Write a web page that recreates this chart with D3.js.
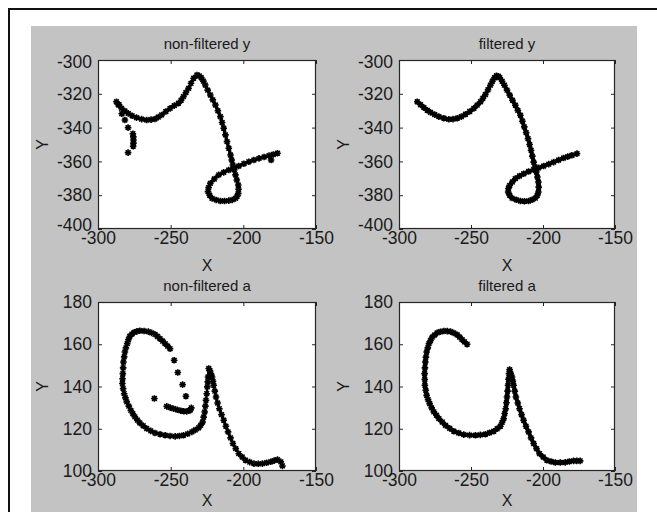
<!DOCTYPE html>
<html><head><meta charset="utf-8">
<script src="https://cdn.jsdelivr.net/npm/d3@7"></script>
<style>
body{margin:0;background:#fff}
svg{display:block;font-family:"Liberation Sans",Arial,Helvetica,sans-serif}
</style>
</head><body>
<svg id="chart" width="657" height="512"></svg>
<script>
// ---------- DATA ----------
const titles = ["non-filtered y", "filtered y", "non-filtered a", "filtered a"];
const xLabel = "X";
const yLabel = "Y";
const xTicks = [-300, -250, -200, -150];
const yTicksTop = [-400, -380, -360, -340, -320, -300];
const yTicksBottom = [100, 120, 140, 160, 180];

// non-filtered y : main trace
const nonFilteredY = [
 [-287.3,-324.7],[-285.5,-326.5],[-283.8,-328.6],[-281.5,-330.2],[-279.2,-331.6],[-276.5,-333],
 [-273.5,-334.1],[-270,-335],[-266.5,-335.5],[-263.5,-335.3],[-260.8,-334.9],[-258.5,-333.8],
 [-256.2,-332.5],[-253.3,-330.5],[-250.4,-328.6],[-247.5,-327],[-244.6,-325.6],[-242.8,-323.8],
 [-241.2,-321.7],[-239.5,-319.2],[-237.7,-316.8],[-236,-313.8],[-234.2,-310.8],[-231.9,-308.9],
 [-230.3,-309.4],[-228.9,-310.5],[-227.5,-312.5],[-226.2,-314.8],[-224.5,-317.8],[-222.7,-320.7],
 [-221,-323.6],[-219.2,-326.6],[-217.5,-330],[-215.8,-333.5],[-214.6,-337],[-213.5,-340.4],
 [-212.3,-344.3],[-211.2,-348.3],[-210,-352.2],[-208.8,-356.2],[-208,-359.2],[-207.2,-362.1],
 [-206.3,-365],[-205.4,-368],[-204.5,-371],[-203.5,-374],[-203.3,-376.5],[-203.5,-378.9],
 [-204.3,-380.6],[-205.4,-381.9],[-207.7,-382.8],[-210,-383.2],[-213,-383.4],[-215.8,-383.4],
 [-218.7,-382.8],[-221.5,-381.9],[-223.2,-380],[-224.3,-377.9],[-223.9,-375.5],[-222.7,-373],
 [-220,-370.4],[-216.9,-368],[-213.5,-366.5],[-210,-365.1],[-206.5,-363.9],[-203.1,-362.7],
 [-199.6,-361.4],[-196.2,-360.2],[-192.7,-359.2],[-189.2,-358.2],[-185.7,-357.4],[-182.3,-356.6],
 [-179.4,-355.9],[-176.5,-355.2]
];
// non-filtered y : stray samples
const nonFilteredYStray = [
 [-286,-326.5],[-283.6,-331.8],[-281.5,-335.5],[-279.3,-340],[-276,-343.6],[-275.7,-345.5],
 [-275.6,-347.3],[-275.6,-349.2],[-275.8,-351],[-279.3,-354.8],[-180.9,-359.2]
];

// filtered y
const filteredY = [
 [-287.3,-324.7],[-285,-326.5],[-282.7,-328.2],[-280.4,-329.7],[-278.1,-331],[-275.2,-332.3],
 [-272.3,-333.5],[-268.8,-334.5],[-265.4,-335.1],[-262.5,-335],[-259.6,-334.5],[-256.7,-333.5],
 [-253.8,-332.1],[-250.9,-330.5],[-248,-328.6],[-245.7,-326.7],[-243.4,-324.7],[-241.7,-322.6],
 [-240,-320.4],[-238.2,-317.6],[-236.5,-314.9],[-235.1,-312.6],[-233.7,-310.5],[-232.3,-309.3],
 [-231,-309.6],[-230,-310.5],[-228.4,-312.6],[-226.8,-314.9],[-225,-317.8],[-223.1,-320.8],
 [-221.2,-323.8],[-219.2,-326.8],[-217.5,-329.8],[-215.7,-332.7],[-214.3,-336.2],[-213,-339.6],
 [-211.7,-343],[-210.4,-346.5],[-209.3,-350],[-208.3,-353.4],[-207.4,-356.9],[-206.5,-360.4],
 [-205.5,-363.3],[-204.6,-366.3],[-203.9,-369.2],[-203.2,-372.2],[-203,-375.2],[-203.2,-378.1],
 [-204,-380.2],[-205.3,-381.7],[-207.6,-382.7],[-210,-383.4],[-212.9,-383.6],[-215.7,-383.4],
 [-218.6,-382.7],[-221.5,-381.7],[-223.2,-380],[-224.2,-378.1],[-224,-376],[-223.1,-374.2],
 [-221.3,-372.2],[-219.2,-370.2],[-216.3,-368.6],[-213.4,-367.3],[-210,-366],[-206.5,-364.9],
 [-203,-363.8],[-199.5,-362.7],[-196,-361.6],[-192.6,-360.4],[-189.1,-359.2],[-185.7,-358],
 [-182.8,-357.2],[-179.9,-356.4],[-176.4,-355.4]
];

// non-filtered a : main trace
const nonFilteredA = [
 [-250.4,157.9],[-252.1,159.1],[-253.8,160.3],[-255.5,161.5],[-257.3,162.6],[-259,163.7],
 [-260.8,164.7],[-263.1,165.4],[-265.4,166],[-268.3,166.3],[-271.2,166.4],[-273.2,166.1],
 [-275.1,165.6],[-276.7,164.8],[-278.1,163.8],[-279.1,162.1],[-279.9,160.3],[-280.8,158.3],
 [-281.5,156.3],[-282,154],[-282.5,151.6],[-282.7,148.8],[-282.9,146.1],[-283.1,143.7],
 [-283.2,141.4],[-282.7,139],[-282,136.6],[-281.1,134.6],[-280.2,132.7],[-278.8,130.7],
 [-277.4,128.7],[-276,127.1],[-274.6,125.6],[-272.9,124.1],[-271.2,122.7],[-268.9,121.4],
 [-266.5,120.1],[-263.7,119],[-260.8,118],[-257.3,117.4],[-253.8,116.9],[-250.4,116.6],
 [-246.9,116.4],[-244,116.6],[-241.2,116.9],[-238.3,117.6],[-235.4,118.5],[-233.1,119.4],
 [-230.8,120.4],[-229.3,121.7],[-228,123.2],[-227.3,125.5],[-226.6,127.9],[-226.1,130.7],
 [-225.7,133.5],[-225.2,136.6],[-224.8,139.8],[-224.5,142.2],[-224.3,144.5],[-223.8,148.5],
 [-223,147.5],[-222.3,146],[-221.5,144.5],[-220.9,142.5],[-220.4,140.6],[-219.6,137.8],
 [-218.8,135],[-217.7,132.2],[-216.5,129.5],[-215,126.7],[-213.5,124],[-212,121.2],
 [-210.5,118.5],[-208.8,115.7],[-207.2,113],[-205.2,110.6],[-203.1,108.2],[-200.8,106.6],
 [-198.5,105.1],[-195.6,104.2],[-192.7,103.5],[-189.8,103.4],[-186.9,103.5],[-184,103.9],
 [-181.1,104.4],[-178.8,104.9],[-176.5,105.4],[-174.2,104.3],[-173.1,102.4]
];
// non-filtered a : stray samples
const nonFilteredAStray = [
 [-247.6,152.4],[-245.1,146.6],[-241.8,140.9],[-239.5,135.4],[-261.2,134.3],
 [-252.7,130.6],[-250.3,130],[-248,129.5],[-245.5,129],[-243,128.5],[-241,128.3],
 [-239,128.2],[-237.4,128.5],[-236.5,128.9],[-235.8,129.9]
];

// filtered a
const filteredA = [
 [-252.7,160],[-254.5,161.1],[-256.2,162.2],[-257.9,163.4],[-259.6,164.5],[-261.9,165.3],
 [-264.2,166],[-266.5,166.2],[-268.8,166.3],[-271.2,165.9],[-273.5,165.4],[-275.2,164.4],
 [-276.9,163.4],[-278.1,161.8],[-279.2,160.3],[-280,158.3],[-280.8,156.3],[-281.3,153.9],
 [-281.7,151.6],[-282,148.8],[-282.2,146.1],[-282.1,143.3],[-282,140.6],[-281.4,138.2],
 [-280.8,135.8],[-279.8,133.8],[-278.7,131.9],[-277.3,129.9],[-275.8,128],[-274,126.4],
 [-272.3,124.8],[-270,123.2],[-267.7,121.6],[-264.8,120.2],[-261.9,118.8],[-258.5,118],
 [-255,117.2],[-251,117],[-246.9,116.9],[-243.5,117.1],[-240,117.4],[-237.1,118.1],
 [-234.2,118.8],[-231.9,120],[-229.6,121.2],[-228.4,123],[-227.3,124.8],[-226.6,127.2],
 [-225.9,129.5],[-225.4,132.3],[-225,135],[-224.6,137.8],[-224.3,140.6],[-224,143.4],
 [-223.6,146.1],[-223.2,148],[-222.4,146.2],[-221.5,144.5],[-220.9,142.5],[-220.4,140.6],
 [-219.6,137.8],[-218.8,135],[-217.5,132.2],[-216.3,129.5],[-214.9,126.7],[-213.5,124],
 [-211.8,121.2],[-210,118.5],[-208.3,115.7],[-206.5,113],[-204.5,110.6],[-202.4,108.2],
 [-199.9,106.6],[-197.3,105.1],[-194.4,104.5],[-191.5,104],[-188,104],[-184.6,104.1],
 [-181.7,104.5],[-178.8,104.8],[-176.5,104.8],[-174.2,104.8]
];

// ---------- LAYOUT ----------
const svg = d3.select("#chart");
svg.append("rect").attr("x",0).attr("y",0).attr("width",657).attr("height",512).attr("fill","#fff");
svg.append("rect").attr("x",31).attr("y",26).attr("width",606).attr("height",486).attr("fill","#c3c3c3");
svg.append("path").attr("d","M9,512V9H657").attr("fill","none").attr("stroke","#111").attr("stroke-width",2);

const panels = [
  {title:titles[0], left:98,  top:60,  w:218, h:169, yDomain:[-400,-300], yTicks:yTicksTop,    main:nonFilteredY, stray:nonFilteredYStray, xLabY:265, lw:3.2, edgeShift:true},
  {title:titles[1], left:399, top:60,  w:216, h:169, yDomain:[-400,-300], yTicks:yTicksTop,    main:filteredY,    stray:[],                xLabY:265, lw:4,   edgeShift:true},
  {title:titles[2], left:98,  top:302, w:218, h:169, yDomain:[100,180],   yTicks:yTicksBottom, main:nonFilteredA, stray:nonFilteredAStray, xLabY:500, lw:2.4, edgeShift:false},
  {title:titles[3], left:399, top:302, w:216, h:169, yDomain:[100,180],   yTicks:yTicksBottom, main:filteredA,    stray:[],                xLabY:500, lw:4,   edgeShift:false}
];

const star = (r) => {
  const d = r * 0.72;
  return `M${-r},0H${r}M0,${-r}V${r}M${-d},${-d}L${d},${d}M${-d},${d}L${d},${-d}`;
};
const tickColor = "#262626";
const fmt = d => String(d);   // plain hyphen-minus, as in the reference

panels.forEach(p => {
  const g = svg.append("g").attr("transform", `translate(${p.left},${p.top})`);
  const x = d3.scaleLinear().domain([-300,-150]).range([0,p.w]);
  const y = d3.scaleLinear().domain(p.yDomain).range([p.h,0]);

  g.append("rect").attr("width",p.w).attr("height",p.h).attr("fill","#fff");

  const styleAxis = sel => {
    sel.select(".domain").remove();
    sel.selectAll(".tick line").attr("stroke",tickColor).attr("stroke-width",1);
    sel.selectAll(".tick text").attr("fill","#1a1a1a").style("font-size","17.5px")
      .style("font-family",'"Liberation Sans",Arial,sans-serif');
  };
  g.append("g").attr("transform",`translate(0,${p.h})`)
    .call(d3.axisBottom(x).tickValues(xTicks).tickSizeInner(-4).tickSizeOuter(0).tickPadding(3).tickFormat(fmt))
    .call(styleAxis);
  g.append("g")
    .call(d3.axisTop(x).tickValues(xTicks).tickSizeInner(-4).tickSizeOuter(0).tickFormat(""))
    .call(styleAxis);
  const yAx = g.append("g")
    .call(d3.axisLeft(y).tickValues(p.yTicks).tickSizeInner(-4).tickSizeOuter(0).tickPadding(6).tickFormat(fmt))
    .call(styleAxis);
  if (p.edgeShift) {
    const dom = y.domain();
    yAx.selectAll(".tick text").attr("y", d => d === dom[0] ? -4 : (d === dom[1] ? 2 : 0));
  }
  g.append("g").attr("transform",`translate(${p.w},0)`)
    .call(d3.axisRight(y).tickValues(p.yTicks).tickSizeInner(-4).tickSizeOuter(0).tickFormat(""))
    .call(styleAxis);

  g.append("rect").attr("x",0.5).attr("y",0.5).attr("width",p.w-1).attr("height",p.h-1)
    .attr("fill","none").attr("stroke",tickColor).attr("stroke-width",1.2);

  const line = d3.line().x(d => x(d[0])).y(d => y(d[1])).curve(d3.curveCatmullRom.alpha(0.5));
  g.append("path").datum(p.main).attr("d",line).attr("fill","none")
    .attr("stroke","#000").attr("stroke-width",p.lw).attr("stroke-linejoin","round").attr("stroke-linecap","round");
  g.append("g").selectAll("path").data(p.main.concat(p.stray)).join("path")
    .attr("transform", d => `translate(${x(d[0])},${y(d[1])})`)
    .attr("d", star(3.3)).attr("fill","none").attr("stroke","#000").attr("stroke-width",1.6);

  svg.append("text").attr("x",p.left + p.w/2).attr("y",p.top - 11).attr("text-anchor","middle")
    .style("font-size","15px").attr("fill","#1a1a1a").text(p.title);
  svg.append("text").attr("x",p.left + p.w/2).attr("y",p.xLabY).attr("text-anchor","middle")
    .attr("dominant-baseline","central").style("font-size","16px").attr("fill","#1a1a1a").text(xLabel);
  svg.append("text").attr("transform",`translate(${p.left - 56},${p.top + p.h/2}) rotate(-90)`)
    .attr("text-anchor","middle").attr("dominant-baseline","central")
    .style("font-size","16px").attr("fill","#1a1a1a").text(yLabel);
});
</script>
</body></html>
